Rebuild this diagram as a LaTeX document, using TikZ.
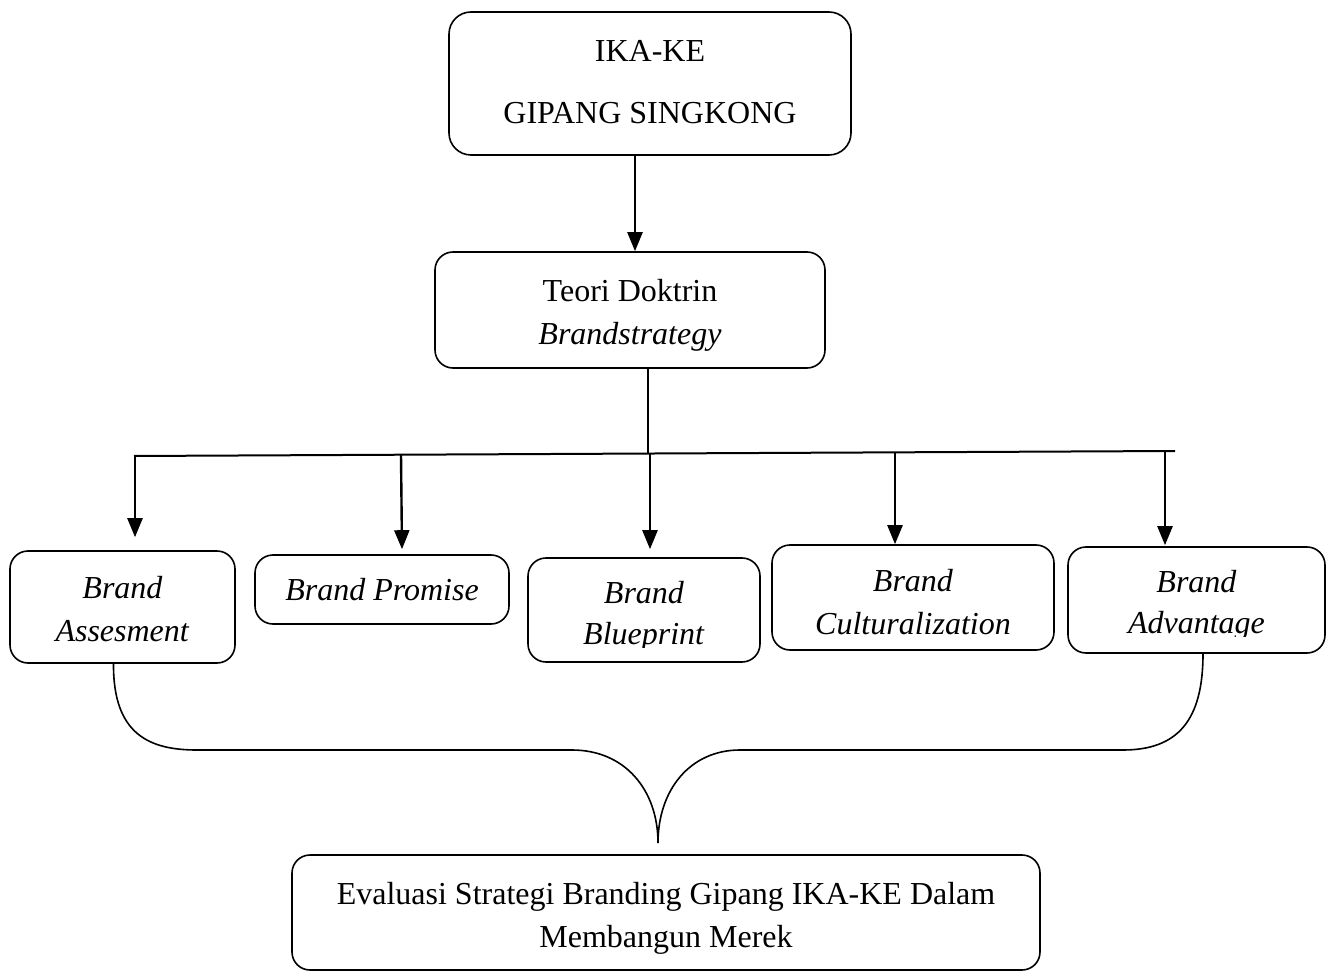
\documentclass[tikz,border=0pt]{standalone}
\usepackage{fontspec}
\setmainfont{Liberation Serif}
\usetikzlibrary{arrows.meta,calc}
\begin{document}
\begin{tikzpicture}[x=1pt,y=-1pt,
  box/.style={draw, line width=1.6pt, rounded corners=18pt, inner sep=0pt},
  boxtext/.style={inner sep=0pt, align=center, font=\fontsize{32}{43}\selectfont},
  arr/.style={-{Triangle[width=15pt,length=19pt]}, line width=2.4pt},
  plain/.style={line width=2pt},
  brc/.style={line width=1.6pt}]
\useasboundingbox (0,0) rectangle (1333,973);

% top boxes
\node[box, minimum width=402pt, minimum height=143pt, rounded corners=22pt] (top) at (650,83.5) {};
\node[boxtext, font=\fontsize{32}{62}\selectfont] (toptxt) at ([yshift=1pt]top.center) {IKA-KE\\GIPANG SINGKONG};
\node[box, minimum width=390pt, minimum height=116pt] (teori) at (630,310) {};
\node[boxtext] (teoritxt) at ([yshift=-5pt]teori.center) {Teori Doktrin\\\textit{Brandstrategy}};

% brand boxes
\node[box, minimum width=225pt, minimum height=112pt] (assess) at (122.5,607) {};
\node[boxtext] (assesstxt) at ([yshift=-2pt]assess.center) {\textit{Brand}\\\textit{Assesment}};
\node[box, minimum width=254pt, minimum height=69pt] (promise) at (382,589.5) {};
\node[boxtext] (promisetxt) at (promise.center) {\textit{Brand Promise}};
\node[box, minimum width=232pt, minimum height=104pt] (blue) at (644,610) {};
\begin{scope}
  \clip ([xshift=-1pt]blue.north west) rectangle ([yshift=15pt]blue.south east);
  \node[boxtext, font=\fontsize{32}{41}\selectfont] (bluetxt) at ([yshift=-6.5pt]blue.center) {\textit{Brand}\\\textit{Blueprint}};
\end{scope}
\node[box, minimum width=282pt, minimum height=105pt] (cult) at (913,597.5) {};
\node[boxtext] (culttxt) at ([yshift=-5pt]cult.center) {\textit{Brand}\\\textit{Culturalization}};
\node[box, minimum width=257pt, minimum height=106pt] (adv) at (1196.5,600) {};
\begin{scope}
  \clip ([xshift=-1pt]adv.north west) rectangle ([yshift=17pt]adv.south east);
  \node[boxtext, font=\fontsize{32}{41}\selectfont] (advtxt) at ([yshift=-5pt]adv.center) {\textit{Brand}\\\textit{Advantage}};
\end{scope}

% bottom box
\node[box, minimum width=748pt, minimum height=115pt] (eval) at (666,912.5) {};
\node[boxtext] (evaltxt) at ([yshift=-6pt]eval.center) {Evaluasi Strategi Branding Gipang IKA-KE Dalam\\Membangun Merek};

% connectors
\coordinate (busL) at (134,456);
\coordinate (busR) at (1175,451);
\coordinate (busM) at (648,454);
\draw[arr] ([xshift=-15pt]top.south) -- ([xshift=5pt]teori.north);
\draw[plain] ([xshift=18pt]teori.south) -- (busM);
\draw[plain] (busL) -- (busR);
\draw[arr] (135,456) -- ([xshift=12.5pt,yshift=13pt]assess.north);
\draw[arr] (401,455) -- ([xshift=20pt,yshift=5pt]promise.north);
\draw[arr] (650,454) -- ([xshift=6pt,yshift=8pt]blue.north);
\draw[arr] (895,452) -- ([xshift=-18pt]cult.north);
\draw[arr] (1165,451) -- ([xshift=-31.5pt,yshift=1pt]adv.north);

% brace
\draw[brc] ([xshift=-9pt]assess.south) .. controls (113,735) and (150,750) .. (197,750)
  -- (572,750) .. controls (625,750) and (658,790) .. (658,843);
\draw[brc] (658,843) .. controls (658,790) and (690,750) .. (740,750)
  -- (1123,750) .. controls (1178,750) and (1203,720) .. ([xshift=6.5pt]adv.south);
\end{tikzpicture}
\end{document}
